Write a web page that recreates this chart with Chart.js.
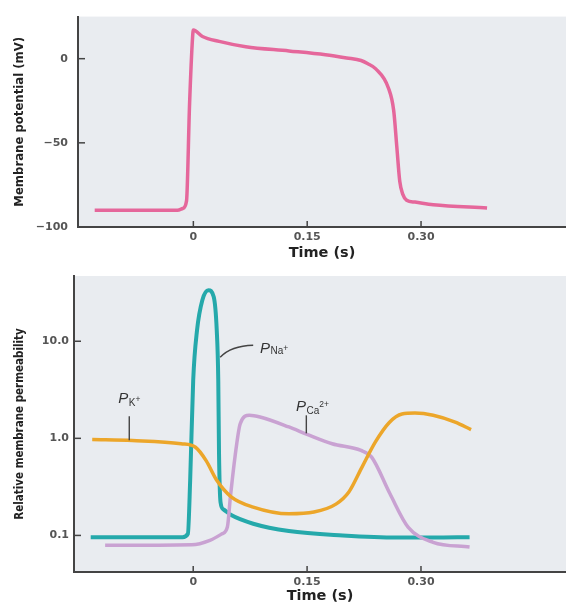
<!DOCTYPE html>
<html><head><meta charset="utf-8">
<script src="https://cdn.jsdelivr.net/npm/chart.js@4"></script>
<style>
html,body{margin:0;padding:0;background:#fff;}
#wrap{position:relative;width:566px;height:602px;overflow:hidden;}
#c1{position:absolute;left:0;top:0;}
#c2{position:absolute;left:0;top:262px;}
</style></head><body>
<div id="wrap">
<canvas id="c1" width="566" height="262"></canvas>
<canvas id="c2" width="566" height="340"></canvas>
</div>
<script>
// ---------- DATA ----------
// Top panel: membrane potential (mV) vs time (s)
const vmTime  = [-0.13, -0.10, -0.06, -0.03, -0.021, -0.014, -0.009, -0.005, -0.001, 0.0, 0.012, 0.034, 0.069, 0.126, 0.174, 0.202, 0.221, 0.23, 0.240, 0.257, 0.264, 0.268, 0.272, 0.276, 0.281, 0.292, 0.316, 0.387];
const vmValue = [-90, -90, -90, -90, -90, -89, -84.5, -27, 13, 17, 13.2, 10.3, 7.1, 4.6, 2.3, 0.4, -1.1, -3, -5.9, -17.4, -30.9, -51.9, -73, -80.6, -84.1, -85.2, -86.8, -88.7];

// Bottom panel: relative membrane permeability (log) vs time (s)
const kTime  = [-0.133, -0.08, -0.016, 0.003, 0.017, 0.031, 0.05, 0.079, 0.126, 0.159, 0.188, 0.205, 0.222, 0.24, 0.258, 0.275, 0.292, 0.316, 0.345, 0.366];
const kValue = [0.97, 0.95, 0.88, 0.81, 0.59, 0.37, 0.25, 0.196, 0.167, 0.174, 0.21, 0.28, 0.50, 0.92, 1.45, 1.78, 1.82, 1.73, 1.47, 1.23];

const naTime  = [-0.135, -0.06, -0.014, -0.007, -0.004, 0.0, 0.005, 0.012, 0.020, 0.027, 0.031, 0.033, 0.034, 0.036, 0.040, 0.050, 0.079, 0.126, 0.197, 0.268, 0.316, 0.364];
const naValue = [0.096, 0.096, 0.096, 0.104, 0.37, 3.97, 12.9, 26.5, 33.6, 28.7, 13, 4, 0.7, 0.22, 0.185, 0.162, 0.132, 0.111, 0.1, 0.095, 0.095, 0.096];

const caTime  = [-0.116, -0.002, 0.022, 0.038, 0.045, 0.049, 0.055, 0.062, 0.074, 0.088, 0.126, 0.15, 0.183, 0.221, 0.235, 0.259, 0.283, 0.316, 0.364];
const caValue = [0.079, 0.08, 0.089, 0.104, 0.122, 0.25, 0.64, 1.42, 1.73, 1.66, 1.31, 1.1, 0.88, 0.75, 0.64, 0.27, 0.122, 0.085, 0.076];

// Ticks
const timeTicks = [0, 0.15, 0.30];
const timeTickLabels = ['0', '0.15', '0.30'];
const vmTicks = [-100, -50, 0];
const vmTickLabels = ['\u2212100', '\u221250', '0'];
const permTicks = [0.1, 1, 10];
const permTickLabels = ['0.1', '1.0', '10.0'];

// ---------- HELPERS ----------
const pts = (xs, ys) => xs.map((x, i) => ({x, y: ys[i]}));
const AXIS = '#444';
const tickFont = {family: 'DejaVu Sans', weight: 'bold', size: 11};
const titleFontX = {family: 'DejaVu Sans', weight: 'bold', size: 14.5};
const narrowFam = "'Liberation Sans Narrow', 'DejaVu Sans Condensed', 'Liberation Sans', sans-serif";

const bgPlugin = {
  id: 'bg',
  beforeDraw(chart) {
    const {ctx, chartArea: a} = chart;
    ctx.save();
    ctx.fillStyle = '#e9ecf0';
    ctx.fillRect(a.left, a.top, a.right - a.left, a.bottom - a.top);
    ctx.restore();
  }
};
const innerTicks = {
  id: 'innerTicks',
  beforeDatasetsDraw(chart) {
    const {ctx} = chart; const xs = chart.scales.x, ys = chart.scales.y;
    ctx.save(); ctx.strokeStyle = AXIS; ctx.lineWidth = 1.5;
    xs.ticks.forEach(t => {
      const px = xs.getPixelForValue(t.value);
      ctx.beginPath(); ctx.moveTo(px, xs.top); ctx.lineTo(px, xs.top - 6); ctx.stroke();
    });
    ys.ticks.forEach(t => {
      const py = ys.getPixelForValue(t.value);
      ctx.beginPath(); ctx.moveTo(ys.right, py); ctx.lineTo(ys.right + 7, py); ctx.stroke();
    });
    ctx.restore();
  }
};
function setTicks(values) { return s => { s.ticks = values.map(v => ({value: v})); }; }

function xScale(min, max, tickPad, titleLH, axisH) {
  return {
    type: 'linear', position: 'bottom', min, max,
    grid: {display: false, drawTicks: false},
    border: {display: true, color: AXIS, width: 2},
    afterBuildTicks: setTicks(timeTicks),
    ticks: {font: tickFont, color: '#555', padding: tickPad, maxRotation: 0, autoSkip: false,
            callback: (v, i) => timeTickLabels[i]},
    title: {display: true, text: 'Time (s)', color: '#222', padding: 0,
            font: Object.assign({}, titleFontX, {lineHeight: titleLH})},
    afterFit: s => { s.height = axisH; }
  };
}

// ---------- TOP CHART ----------
new Chart(document.getElementById('c1'), {
  type: 'line',
  data: {datasets: [{
    data: pts(vmTime, vmValue), borderColor: '#e5679b', borderWidth: 3.5,
    pointRadius: 0, cubicInterpolationMode: 'monotone', fill: false
  }]},
  options: {
    responsive: false, animation: false, devicePixelRatio: 1,
    layout: {padding: {top: 10, left: 0, right: 0, bottom: 0}},
    plugins: {legend: {display: false}, tooltip: {enabled: false}},
    scales: {
      x: xScale(-0.152, 0.491, 4, 1.2, 35),
      y: {
        type: 'linear', min: -100, max: 25,
        grid: {display: false, drawTicks: false},
        border: {display: true, color: AXIS, width: 2},
        afterBuildTicks: setTicks(vmTicks),
        ticks: {font: tickFont, color: '#555', padding: 10, callback: (v, i) => vmTickLabels[i]},
        title: {display: true, text: 'Membrane potential (mV)', color: '#222',
                font: {family: narrowFam, weight: 'bold', size: 13}, padding: {top: 12}},
        afterFit: s => { s.width = 78; }
      }
    }
  },
  plugins: [bgPlugin, innerTicks]
});

// ---------- BOTTOM CHART ----------
const annotations = {
  id: 'annot',
  afterDatasetsDraw(chart) {
    const {ctx} = chart; const xs = chart.scales.x, ys = chart.scales.y;
    const X = v => xs.getPixelForValue(v), Y = v => ys.getPixelForValue(v);
    ctx.save();
    ctx.strokeStyle = '#444'; ctx.lineWidth = 1.4;
    // leader lines (data coordinates)
    ctx.beginPath(); ctx.moveTo(X(-0.0842), Y(1.69)); ctx.lineTo(X(-0.0842), Y(0.953)); ctx.stroke();
    ctx.beginPath(); ctx.moveTo(X(0.149), Y(1.726)); ctx.lineTo(X(0.149), Y(1.126)); ctx.stroke();
    ctx.beginPath(); ctx.moveTo(X(0.0355), Y(6.84));
    ctx.quadraticCurveTo(X(0.05), Y(9.0), X(0.079), Y(9.1)); ctx.stroke();
    // labels
    const drawLabel = (x, y, parts) => {
      ctx.fillStyle = '#333'; ctx.textBaseline = 'alphabetic'; ctx.textAlign = 'left';
      ctx.font = "italic 15px 'Liberation Sans', Arial, sans-serif";
      ctx.fillText('P', x, y);
      let cx = x + ctx.measureText('P').width + 0.5;
      parts.forEach(p => {
        ctx.font = p.size + "px 'Liberation Sans', Arial, sans-serif";
        ctx.fillText(p.t, cx, y + p.dy);
        cx += ctx.measureText(p.t).width;
      });
    };
    drawLabel(X(-0.0987), Y(2.30), [{t: 'K', dy: 3, size: 10}, {t: '+', dy: -1, size: 8.5}]);
    drawLabel(X(0.1355), Y(1.90), [{t: 'Ca', dy: 3, size: 10}, {t: '2+', dy: -4, size: 8.5}]);
    drawLabel(X(0.088), Y(7.52), [{t: 'Na', dy: 1, size: 10}, {t: '+', dy: -2, size: 8.5}]);
    ctx.restore();
  }
};

new Chart(document.getElementById('c2'), {
  type: 'line',
  data: {datasets: [
    {data: pts(kTime, kValue), borderColor: '#eca62a', borderWidth: 3.5, pointRadius: 0, cubicInterpolationMode: 'monotone', fill: false},
    {data: pts(caTime, caValue), borderColor: '#c9a2d2', borderWidth: 3.5, pointRadius: 0, cubicInterpolationMode: 'monotone', fill: false},
    {data: pts(naTime, naValue), borderColor: '#25a9ab', borderWidth: 4, pointRadius: 0, cubicInterpolationMode: 'monotone', fill: false}
  ]},
  options: {
    responsive: false, animation: false, devicePixelRatio: 1,
    layout: {padding: {top: 14, left: 0, right: 0, bottom: 0}},
    plugins: {legend: {display: false}, tooltip: {enabled: false}},
    scales: {
      x: xScale(-0.157, 0.491, 4, 0.8, 30),
      y: {
        type: 'logarithmic', min: 0.042, max: 47,
        grid: {display: false, drawTicks: false},
        border: {display: true, color: AXIS, width: 2},
        afterBuildTicks: setTicks(permTicks),
        ticks: {font: tickFont, color: '#555', padding: 5, callback: (v, i) => permTickLabels[i]},
        title: {display: true, text: 'Relative membrane permeability', color: '#222',
                font: {family: narrowFam, weight: 'bold', size: 11.5}, padding: {top: 13}},
        afterFit: s => { s.width = 74; }
      }
    }
  },
  plugins: [bgPlugin, innerTicks, annotations]
});
</script>
</body></html>
